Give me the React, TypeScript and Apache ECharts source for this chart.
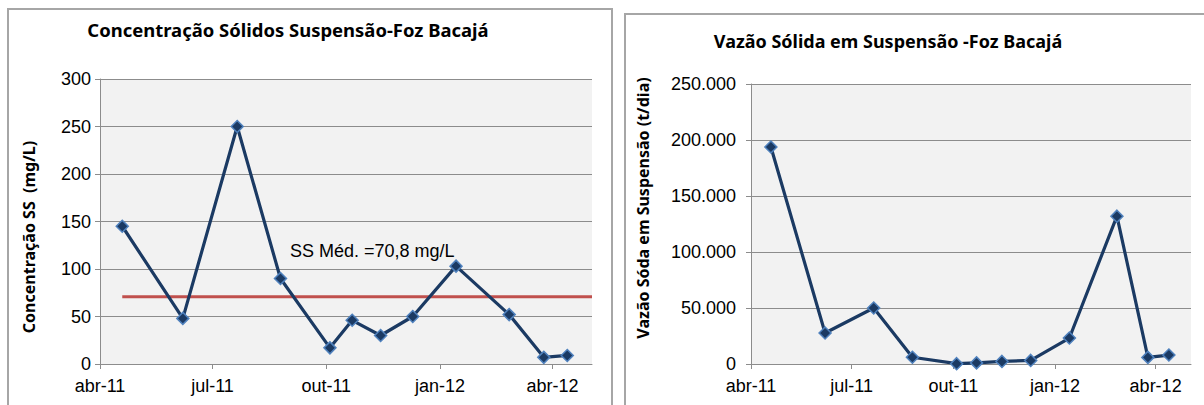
import React, { useEffect, useRef } from "react";
import * as echarts from "echarts";

// Sampling dates (shared by both charts)
const sampleDates = [
  "2011-04-19", "2011-06-07", "2011-07-21", "2011-08-25", "2011-10-04", "2011-10-22",
  "2011-11-14", "2011-12-10", "2012-01-14", "2012-02-26", "2012-03-25", "2012-04-13",
];
// Concentração SS (mg/L)
const ssConcentration = [145, 48, 250, 90, 17, 46, 30, 50, 103, 52, 7, 9];
// Vazão sólida em suspensão (t/dia)
const solidDischarge = [193800, 27700, 50000, 6000, 300, 1000, 2300, 3200, 23200, 132000, 5900, 8000];
const ssMean = 70.8;
const ssMeanLabel = "SS Méd. =70,8 mg/L";
const tickDates = ["2011-04-01", "2011-07-01", "2011-10-01", "2012-01-01", "2012-04-01"];
const axisStart = "2011-04-01";
const axisEnd = "2012-05-03";
const monthNames = ["jan", "fev", "mar", "abr", "mai", "jun", "jul", "ago", "set", "out", "nov", "dez"];
const leftTitle = "Concentração Sólidos Suspensão-Foz Bacajá";
const rightTitle = "Vazão Sólida em Suspensão -Foz Bacajá";
const leftYName = "Concentração SS  (mg/L)";
const rightYName = "Vazão Sóda em Suspensão (t/dia)";

const toTime = (s: string) => {
  const [y, m, d] = s.split("-").map(Number);
  return new Date(y, m - 1, d).getTime();
};

const fmtDate = (v: number) => {
  const d = new Date(v);
  return monthNames[d.getMonth()] + "-" + String(d.getFullYear()).slice(2);
};

const fmtThousands = (v: number) =>
  String(Math.round(v)).replace(/\B(?=(\d{3})+(?!\d))/g, ".");

const NAVY = "#1B3A63";
const GRIDC = "#8C8C8C";
const LABEL_FONT = "Liberation Sans";
const BOLD_FONT = "Noto Sans";

export default function App() {
  const ref = useRef<HTMLDivElement>(null);
  useEffect(() => {
    if (!ref.current) return;
    const chart = echarts.init(ref.current, undefined, { renderer: "svg" });
    const ticks = tickDates.map(toTime);
    const xAxisBase = (gridIndex: number) => ({
      type: "value" as const,
      gridIndex,
      min: toTime(axisStart),
      max: toTime(axisEnd),
      splitLine: { show: false },
      axisLine: { lineStyle: { color: GRIDC, width: 1 } },
      axisTick: { show: true, customValues: ticks, length: 5, lineStyle: { color: GRIDC } },
      axisLabel: {
        customValues: ticks,
        formatter: (v: number) => fmtDate(v),
        color: "#000",
        fontFamily: LABEL_FONT,
        fontSize: 18,
        margin: 13,
        hideOverlap: false,
      },
    });
    const yAxisBase = (gridIndex: number) => ({
      type: "value" as const,
      gridIndex,
      min: 0,
      axisLine: { show: true, lineStyle: { color: GRIDC, width: 1 } },
      axisTick: { show: true, length: 5, lineStyle: { color: GRIDC } },
      splitLine: { show: true, lineStyle: { color: GRIDC, width: 1 } },
    });
    const lineStyle = { color: NAVY, width: 3.2 };
    const itemStyle = { color: NAVY, borderColor: "#4F81BD", borderWidth: 1.5 };
    chart.setOption({
      animation: false,
      backgroundColor: "#fff",
      graphic: [
        {
          type: "rect", z: -10, silent: true,
          shape: { x: 8, y: 9, width: 604, height: 430 },
          style: { fill: "#fff", stroke: "#A6A6A6", lineWidth: 2 },
        },
        {
          type: "rect", z: -10, silent: true,
          shape: { x: 625, y: 14, width: 600, height: 430 },
          style: { fill: "#fff", stroke: "#A6A6A6", lineWidth: 2 },
        },
        {
          type: "text", x: 288, y: 30, scaleX: 1.086,
          style: { text: leftTitle, fill: "#000", font: `bold 17px "${BOLD_FONT}"`, align: "center", verticalAlign: "middle" },
        },
        {
          type: "text", x: 888, y: 41, scaleX: 1.058,
          style: { text: rightTitle, fill: "#000", font: `bold 17px "${BOLD_FONT}"`, align: "center", verticalAlign: "middle" },
        },
        {
          type: "text", x: 29, y: 237, rotation: Math.PI / 2,
          style: { text: leftYName, fill: "#000", font: `bold 16px "${BOLD_FONT}"`, align: "center", verticalAlign: "middle" },
        },
        {
          type: "text", x: 643, y: 208, rotation: Math.PI / 2,
          style: { text: rightYName, fill: "#000", font: `bold 16px "${BOLD_FONT}"`, align: "center", verticalAlign: "middle" },
        },
        {
          type: "text", x: 290, y: 251,
          style: { text: ssMeanLabel, fill: "#000", font: `18px "${LABEL_FONT}"`, align: "left", verticalAlign: "middle" },
        },
      ],
      grid: [
        { left: 100, top: 79, width: 492, height: 285, show: true, backgroundColor: "#F2F2F2", borderWidth: 0 },
        { left: 751, top: 84, width: 440, height: 280, show: true, backgroundColor: "#F2F2F2", borderWidth: 0 },
      ],
      xAxis: [xAxisBase(0), xAxisBase(1)],
      yAxis: [
        {
          ...yAxisBase(0), max: 300, interval: 50,
          axisLabel: { color: "#000", fontFamily: LABEL_FONT, fontSize: 18, margin: 9 },
        },
        {
          ...yAxisBase(1), max: 250000, interval: 50000,
          axisLabel: { color: "#000", fontFamily: LABEL_FONT, fontSize: 18, margin: 15, formatter: (v: number) => fmtThousands(v) },
        },
      ],
      series: [
        {
          type: "line",
          xAxisIndex: 0, yAxisIndex: 0,
          data: [
            [toTime(sampleDates[0]), ssMean],
            [toTime(axisEnd), ssMean],
          ],
          symbol: "none",
          lineStyle: { color: "#C0504D", width: 3 },
          z: 1,
        },
        {
          type: "line",
          xAxisIndex: 0, yAxisIndex: 0,
          data: sampleDates.map((d, i) => [toTime(d), ssConcentration[i]]),
          symbol: "diamond", symbolSize: 12,
          lineStyle, itemStyle,
          z: 3,
        },
        {
          type: "line",
          xAxisIndex: 1, yAxisIndex: 1,
          data: sampleDates.map((d, i) => [toTime(d), solidDischarge[i]]),
          symbol: "diamond", symbolSize: 12,
          lineStyle, itemStyle,
          z: 3,
        },
      ],
    });
    return () => chart.dispose();
  }, []);
  return <div ref={ref} style={{ position: "absolute", left: 0, top: 0, width: 1204, height: 405 }} />;
}
